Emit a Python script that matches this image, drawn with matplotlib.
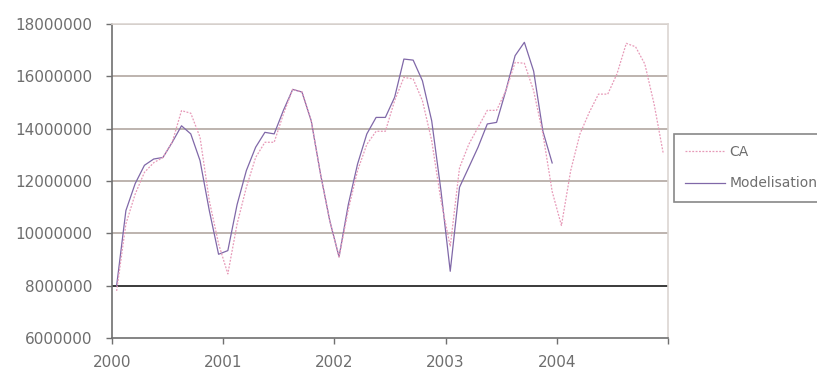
import numpy as np
import matplotlib
matplotlib.use('Agg')
import matplotlib.pyplot as plt

# monthly turnover, Jan 2000 .. Dec 2004
ca = [7800000, 10360000, 11500000, 12330000, 12700000, 12900000,
      13480000, 14690000, 14590000, 13670000, 11250000, 9600000,
      8450000, 10360000, 11760000, 12900000, 13480000, 13480000,
      14560000, 15500000, 15400000, 14300000, 12270000, 10480000,
      9100000, 10900000, 12400000, 13400000, 13900000, 13900000,
      15070000, 15960000, 15900000, 15070000, 13540000, 11250000,
      9500000, 12500000, 13400000, 14050000, 14700000, 14700000,
      15450000, 16530000, 16500000, 15450000, 13800000, 11600000,
      10300000, 12400000, 13800000, 14620000, 15320000, 15320000,
      16100000, 17260000, 17130000, 16470000, 14940000, 13030000]

# fitted model, Jan 2000 .. Dec 2003
modelisation = [8000000, 10870000, 11900000, 12600000, 12840000, 12900000,
                13480000, 14110000, 13800000, 12780000, 10870000, 9200000,
                9340000, 11100000, 12400000, 13290000, 13860000, 13800000,
                14700000, 15500000, 15400000, 14300000, 12270000, 10480000,
                9100000, 11100000, 12650000, 13800000, 14430000, 14430000,
                15200000, 16660000, 16620000, 15830000, 14300000, 11630000,
                8550000, 11760000, 12520000, 13290000, 14180000, 14240000,
                15450000, 16790000, 17300000, 16200000, 13900000, 12690000]

years = ['2000', '2001', '2002', '2003', '2004']
yticks = [6000000, 8000000, 10000000, 12000000, 14000000, 16000000, 18000000]

fig = plt.figure(figsize=(8.17, 3.70), dpi=100)
ax = fig.add_axes([112/817, 32/370, 556/817, 314/370])

grey = '#6e6e6e'
for v in yticks[1:]:
    ax.axhline(v, color='#3a3a3a' if v == 8000000 else '#b8aea8',
               lw=1.4 if v == 8000000 else 1.3, zorder=1)

ax.plot(np.arange(len(ca)), ca, color='#e79ab8', lw=0.9,
        linestyle=(0, (1.5, 1.2)), label='CA', zorder=3)
ax.plot(np.arange(len(modelisation)), modelisation, color='#8068a8', lw=0.9,
        label='Modelisation', zorder=2)

ax.set_xlim(-0.5, 59.5)
ax.set_ylim(6000000, 18000000)
ax.set_xticks(np.arange(-0.5, 60, 12))
ax.set_xticklabels(years + [''])
ax.set_yticks(yticks)
ax.set_yticklabels([str(v) for v in yticks])

for side in ['top', 'right']:
    ax.spines[side].set_color('#dcd6d2')
    ax.spines[side].set_linewidth(1.2)
for side in ['left', 'bottom']:
    ax.spines[side].set_color('#707070')
    ax.spines[side].set_linewidth(1.2)

ax.tick_params(axis='both', colors='#707070', labelcolor=grey,
               labelsize=11, length=4, width=1)
ax.tick_params(axis='x', pad=8)
ax.tick_params(axis='y', pad=10)

leg = ax.legend(loc='upper left', bbox_to_anchor=(674/817, 1 - 134/370),
                bbox_transform=fig.transFigure, borderaxespad=0,
                fancybox=False, frameon=True, fontsize=10,
                handlelength=2.9, handletextpad=0.3, labelspacing=1.25,
                borderpad=0.8)
leg.get_frame().set_edgecolor('#6a6a6a')
leg.get_frame().set_linewidth(1.2)
for t in leg.get_texts():
    t.set_color(grey)

fig.savefig('out.png', dpi=100)
